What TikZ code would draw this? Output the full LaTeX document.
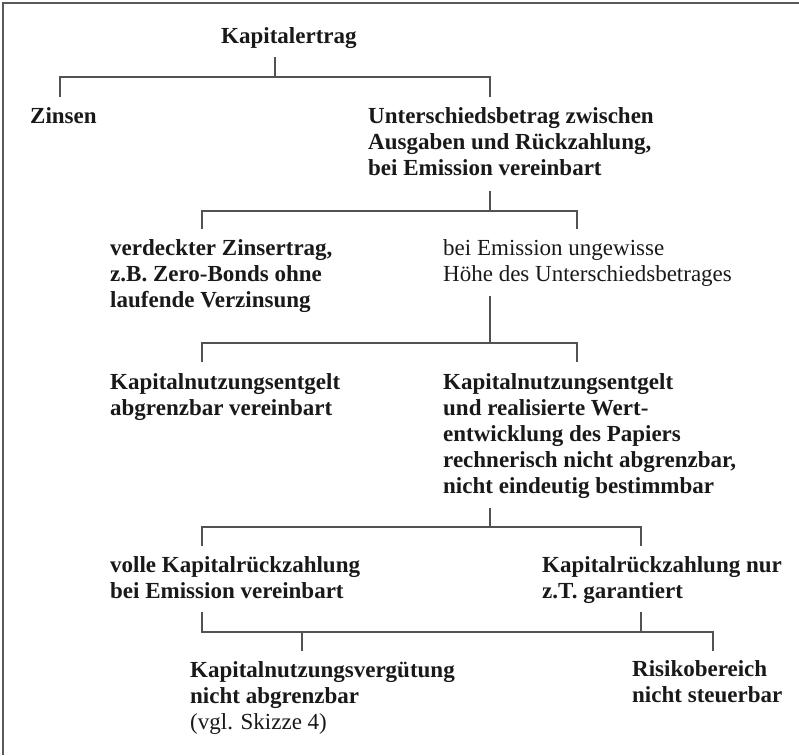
\documentclass[tikz,border=0pt]{standalone}
\usepackage{fontspec}
\setmainfont{Liberation Serif}
\begin{document}
\begin{tikzpicture}[x=1pt,y=-1pt,
  lbl/.style={anchor=base west, inner sep=0pt, align=left, font=\fontsize{23}{26}\selectfont\bfseries, text=black!90},
  lblr/.style={lbl, font=\fontsize{23}{26}\selectfont},
  tree/.style={draw=black!68, line width=1.2pt},
  frame/.style={draw=black!65, line width=2pt}]
\useasboundingbox (0,0) rectangle (799,755);
\draw[frame] (2.7,755) -- (2.7,2.7) -- (799,2.7);

% anchors are at the baseline of each node's last line
\node[lbl] (kap) at (221,43) {Kapitalertrag};
\node[lbl] (zins) at (30,123) {Zinsen};
\node[lbl] (unt) at (368,175) {Unterschiedsbetrag zwischen\\Ausgaben und Rückzahlung,\\bei Emission vereinbart};
\node[lbl] (verd) at (110,307) {verdeckter Zinsertrag,\\z.B. Zero-Bonds ohne\\laufende Verzinsung};
\node[lblr] (ungew) at (443,281) {bei Emission ungewisse\\Höhe des Unterschiedsbetrages};
\node[lbl] (kne1) at (110,415) {Kapitalnutzungsentgelt\\abgrenzbar vereinbart};
\node[lbl] (kne2) at (443,493) {Kapitalnutzungsentgelt\\und realisierte Wert-\\entwicklung des Papiers\\rechnerisch nicht abgrenzbar,\\nicht eindeutig bestimmbar};
\node[lbl] (volle) at (110,598) {volle Kapitalrückzahlung\\bei Emission vereinbart};
\node[lbl] (krz) at (542,598) {Kapitalrückzahlung nur\\z.T. garantiert};
\node[lbl] (knv) at (190,729) {Kapitalnutzungsvergütung\\nicht abgrenzbar\\{\mdseries(vgl. Skizze 4)}};
\node[lbl] (risk) at (632,702) {Risikobereich\\nicht steuerbar};

% bracket 1
\coordinate (b1s) at (275,57);
\coordinate (b1j) at (275,77);
\coordinate (b1l) at (60,97);
\coordinate (b1r) at (490,97);
\draw[tree] (b1s) -- (b1j);
\draw[tree] (b1l) |- (b1j) -| (b1r);
% bracket 2
\coordinate (b2s) at (490,191);
\coordinate (b2j) at (490,211);
\coordinate (b2l) at (202,229);
\coordinate (b2r) at (577,229);
\draw[tree] (b2s) -- (b2j);
\draw[tree] (b2l) |- (b2j) -| (b2r);
% bracket 3
\coordinate (b3s) at (490,296);
\coordinate (b3j) at (490,343);
\coordinate (b3l) at (202,362);
\coordinate (b3r) at (577,362);
\draw[tree] (b3s) -- (b3j);
\draw[tree] (b3l) |- (b3j) -| (b3r);
% bracket 4
\coordinate (b4s) at (490,508);
\coordinate (b4j) at (490,527);
\coordinate (b4l) at (202,546);
\coordinate (b4r) at (641,546);
\draw[tree] (b4s) -- (b4j);
\draw[tree] (b4l) |- (b4j) -| (b4r);
% bracket 5
\coordinate (b5a) at (202,612);
\coordinate (b5b) at (641,612);
\coordinate (b5ja) at (202,632);
\coordinate (b5jb) at (641,632);
\coordinate (b5l) at (302,651);
\coordinate (b5r) at (713,651);
\draw[tree] (b5a) -- (b5ja) -- (b5jb |- b5ja) -| (b5r);
\draw[tree] (b5b) -- (b5jb);
\draw[tree] (b5l) -- (b5l |- b5ja);
\end{tikzpicture}
\end{document}
